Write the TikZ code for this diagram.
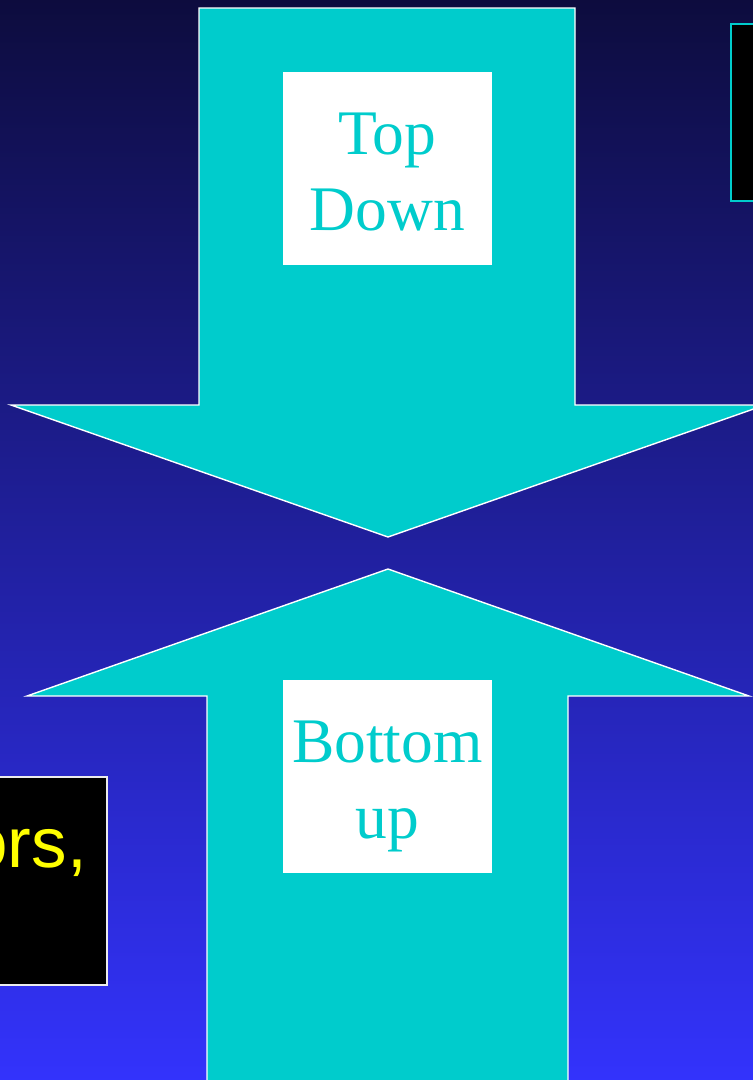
\documentclass[tikz,border=0pt]{standalone}
\usepackage{fontspec}
\newfontfamily\tnr{Liberation Serif}
\newfontfamily\ars{Liberation Sans}
\definecolor{bgtop}{RGB}{13,12,62}
\definecolor{bgmid}{RGB}{34,34,178}
\definecolor{bgbot}{RGB}{51,51,252}
\definecolor{cy}{RGB}{0,204,204}
\definecolor{yel}{RGB}{255,255,0}
\begin{document}
\begin{tikzpicture}[x=1pt,y=-1pt,
  arrowshape/.style={fill=cy,draw=white,line width=1.4pt,line join=miter},
  whitebox/.style={fill=white,draw=none,minimum width=209pt,minimum height=193pt,inner sep=0pt},
  lbl/.style={text=cy,font=\tnr\fontsize{63.5}{76}\selectfont,anchor=base,inner sep=0pt},
  ylbl/.style={text=yel,font=\ars\fontsize{71}{80}\selectfont,anchor=base east,inner sep=0pt}]
\useasboundingbox (0,0) rectangle (753,1080);
\clip (0,0) rectangle (753,1080);
\shade[top color=bgtop,middle color=bgmid,bottom color=bgbot] (0,0) rectangle (753,1080);
% side boxes
\draw[fill=black,draw=cy,line width=1.6pt] (731,24) rectangle (770,201);
\draw[fill=black,draw=white!85!gray,line width=1.6pt] (-10,777) rectangle (107,985);
\node[ylbl] (ors) at (87,867) {ors,};
% top-down arrow
\draw[arrowshape] (199,8) -- (575,8) -- (575,405) -- (765,405) -- (388,537) -- (11,405) -- (199,405) -- cycle;
% bottom-up arrow
\draw[arrowshape] (207,1090) -- (207,696) -- (27,696) -- (388,569) -- (749,696) -- (568,696) -- (568,1090);
\node[whitebox] (td) at (387.5,168.5) {};
\node[lbl] (td1) at (387.5,154) {Top};
\node[lbl] (td2) at (387.5,230) {Down};
\node[whitebox] (bu) at (387.5,776.5) {};
\node[lbl] (bu1) at (387.5,762) {Bottom};
\node[lbl] (bu2) at (387.5,838) {up};
\end{tikzpicture}
\end{document}
